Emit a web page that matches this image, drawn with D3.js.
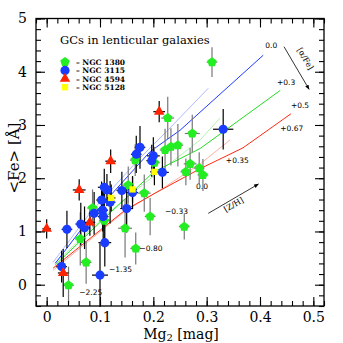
<!DOCTYPE html>
<html>
<head>
<meta charset="utf-8">
<script src="https://cdn.jsdelivr.net/npm/d3@7"></script>
<style>
  body { margin: 0; background: #fff; }
  svg { display: block; }
</style>
</head>
<body>
<div id="chart"></div>
<script>
// GC measurements: [Mg2, <Fe>, err Mg2, err Fe]
const ngc1380 = [
  [0.310, 4.18, 0.010, 0.28], [0.227, 3.13, 0.012, 0.40], [0.273, 2.84, 0.014, 0.35],
  [0.222, 2.53, 0.010, 0.40], [0.233, 2.59, 0.010, 0.35], [0.246, 2.62, 0.010, 0.40],
  [0.166, 2.34, 0.010, 0.30], [0.202, 2.29, 0.010, 0.30], [0.269, 2.27, 0.012, 0.30],
  [0.261, 2.12, 0.010, 0.25], [0.286, 2.19, 0.010, 0.30], [0.293, 2.06, 0.010, 0.30],
  [0.153, 1.87, 0.010, 0.35], [0.183, 1.72, 0.012, 0.35], [0.086, 1.44, 0.010, 0.35],
  [0.108, 1.20, 0.010, 0.50], [0.194, 1.28, 0.010, 0.35], [0.147, 1.06, 0.013, 0.55],
  [0.258, 1.09, 0.010, 0.24], [0.063, 0.86, 0.010, 0.50], [0.167, 0.68, 0.010, 0.30],
  [0.074, 0.42, 0.010, 0.40], [0.041, -0.01, 0.010, 0.35]
];
const ngc3115 = [
  [0.331, 2.92, 0.019, 0.38], [0.175, 2.58, 0.010, 0.40], [0.168, 2.45, 0.010, 0.35],
  [0.200, 2.42, 0.012, 0.35], [0.197, 2.33, 0.010, 0.30], [0.217, 2.11, 0.012, 0.30],
  [0.108, 1.83, 0.012, 0.35], [0.113, 1.78, 0.010, 0.30], [0.141, 1.77, 0.010, 0.35],
  [0.161, 1.73, 0.010, 0.30], [0.105, 1.40, 0.010, 0.40], [0.103, 1.59, 0.010, 0.35],
  [0.119, 1.55, 0.010, 0.40], [0.150, 1.43, 0.012, 0.45], [0.089, 1.34, 0.010, 0.40],
  [0.106, 1.28, 0.010, 0.45], [0.038, 1.04, 0.010, 0.35], [0.064, 1.14, 0.010, 0.40],
  [0.071, 1.07, 0.010, 0.40], [0.109, 0.79, 0.012, 0.45], [0.028, 0.34, 0.010, 0.30],
  [0.100, 0.18, 0.015, 0.60]
];
const ngc4594 = [
  [0.211, 3.25, 0.011, 0.20], [0.120, 2.32, 0.010, 0.22], [0.061, 1.78, 0.012, 0.20],
  [0.081, 1.17, 0.010, 0.25], [0.000, 1.05, 0.008, 0.18], [0.031, 0.22, 0.010, 0.45]
];
const ngc5128 = [
  [0.121, 1.63, 0.008, 0.25], [0.161, 1.79, 0.008, 0.25], [0.202, 2.12, 0.008, 0.25]
];

// SSP model tracks: [Mg2, <Fe>]
const modelA00 = [[0.016, 0.40], [0.081, 1.25], [0.194, 2.50], [0.250, 2.90], [0.406, 4.31]];
const modelA00thin = [[0.012, 0.42], [0.080, 1.33], [0.175, 2.38], [0.228, 2.91], [0.303, 3.69]];
const modelA03 = [[0.016, 0.37], [0.119, 1.35], [0.201, 2.12], [0.288, 2.56], [0.438, 3.65]];
const modelA03thin = [[0.016, 0.41], [0.119, 1.38], [0.203, 2.06], [0.288, 2.72], [0.325, 3.13]];
const modelA05 = [[0.012, 0.31], [0.147, 1.40], [0.207, 1.74], [0.288, 2.18], [0.368, 2.57], [0.458, 3.21]];
const modelA05thin = [[0.012, 0.27], [0.147, 1.38], [0.213, 1.78], [0.288, 2.27], [0.344, 2.72]];

const alphaLabels = [
  { text: '0.0', x: 0.410, y: 4.45 }, { text: '+0.3', x: 0.432, y: 3.75 },
  { text: '+0.5', x: 0.458, y: 3.32 }, { text: '+0.67', x: 0.438, y: 2.89 }
];
const zhLabels = [
  { text: '+0.35', x: 0.336, y: 2.29 }, { text: '0.0', x: 0.280, y: 1.80 },
  { text: '\u22120.33', x: 0.222, y: 1.33 }, { text: '\u22120.80', x: 0.174, y: 0.64 },
  { text: '\u22121.35', x: 0.117, y: 0.24 }, { text: '\u22122.25', x: 0.061, y: -0.19 }
];

const xTicks = [0, 0.1, 0.2, 0.3, 0.4, 0.5];
const yTicks = [0, 1, 2, 3, 4, 5];
const legendNames = ['NGC 1380', 'NGC 3115', 'NGC 4594', 'NGC 5128'];

const W = 343, H = 343;
const svg = d3.select('#chart').append('svg').attr('width', W).attr('height', H);

const x = d3.scaleLinear().domain([-0.02, 0.52]).range([36, 324]);
const y = d3.scaleLinear().domain([-0.4, 5]).range([306, 18.5]);

const serif = 'DejaVu Serif, serif';

// model lines
const line = d3.line().x(d => x(d[0])).y(d => y(d[1]));
const models = [
  { d: modelA00thin, c: '#9aa8ff', w: 0.8 }, { d: modelA03thin, c: '#9cf09c', w: 0.8 },
  { d: modelA05thin, c: '#ff9c8c', w: 0.8 },
  { d: modelA00, c: '#1f3cff', w: 1 }, { d: modelA03, c: '#22dd22', w: 1 },
  { d: modelA05, c: '#ff2a10', w: 1 }
];
svg.append('g').selectAll('path').data(models).join('path')
  .attr('d', m => line(m.d)).attr('fill', 'none')
  .attr('stroke', m => m.c).attr('stroke-width', m => m.w);

// error bars
const groups = [
  { data: ngc1380, color: '#22ee22', shape: 'pent', err: '#777' },
  { data: ngc3115, color: '#1a3cff', shape: 'circle', err: '#000' },
  { data: ngc4594, color: '#ff2200', shape: 'tri', err: '#000' },
  { data: ngc5128, color: '#ffff00', shape: 'square', err: '#000' }
];
const eb = svg.append('g');
groups.forEach(g => {
  g.data.forEach(p => {
    eb.append('line').attr('x1', x(p[0])).attr('x2', x(p[0]))
      .attr('y1', y(p[1] - p[3])).attr('y2', y(p[1] + p[3]))
      .attr('stroke', g.err).attr('stroke-width', 1.2);
    eb.append('line').attr('x1', x(p[0] - p[2])).attr('x2', x(p[0] + p[2]))
      .attr('y1', y(p[1])).attr('y2', y(p[1]))
      .attr('stroke', g.err).attr('stroke-width', 1.2);
  });
});

function pentagon(r) {
  const pts = d3.range(5).map(i => {
    const a = -Math.PI / 2 + i * 2 * Math.PI / 5;
    return [r * Math.cos(a), r * Math.sin(a)];
  });
  return 'M' + pts.map(p => p.join(',')).join('L') + 'Z';
}
function shapePath(s) {
  if (s === 'pent') return pentagon(5);
  if (s === 'circle') return d3.symbol(d3.symbolCircle, 66)();
  if (s === 'tri') return d3.symbol(d3.symbolTriangle, 48)();
  return d3.symbol(d3.symbolSquare, 40)();
}

groups.forEach(g => {
  svg.append('g').selectAll('path').data(g.data).join('path')
    .attr('d', shapePath(g.shape))
    .attr('transform', p => `translate(${x(p[0])},${y(p[1])})`)
    .attr('fill', g.color);
});

// frame and ticks
const frame = svg.append('g');
frame.append('rect').attr('x', 36).attr('y', 18.5).attr('width', 288).attr('height', 287.5)
  .attr('fill', 'none').attr('stroke', '#000').attr('stroke-width', 1.3);

const xMinor = d3.range(-0.02, 0.521, 0.02);
const yMinor = d3.range(-0.4, 5.001, 0.2);

function tickAxis(axisFn, scale, vals, size, translate, labels, pad) {
  const a = axisFn(scale).tickValues(vals).tickSizeInner(-size).tickSizeOuter(0)
    .tickPadding(pad || 8).tickFormat(labels ? d3.format('') : '');
  const g = svg.append('g').attr('transform', translate).call(a);
  g.select('.domain').remove();
  g.selectAll('.tick line').attr('stroke', '#000').attr('stroke-width', 1.1);
  return g;
}
tickAxis(d3.axisBottom, x, xMinor, 5, 'translate(0,306)', false);
tickAxis(d3.axisTop, x, xMinor, 5, 'translate(0,18.5)', false);
tickAxis(d3.axisLeft, y, yMinor, 5, 'translate(36,0)', false);
tickAxis(d3.axisRight, y, yMinor, 5, 'translate(324,0)', false);
tickAxis(d3.axisTop, x, xTicks, 9, 'translate(0,18.5)', false);
tickAxis(d3.axisRight, y, yTicks, 9, 'translate(324,0)', false);
const xa = tickAxis(d3.axisBottom, x, xTicks, 9, 'translate(0,306)', true, 6);
const ya = tickAxis(d3.axisLeft, y, yTicks, 9, 'translate(36,0)', true);
xa.selectAll('text').attr('font-family', serif).attr('font-size', 14).attr('fill', '#000');
ya.selectAll('text').attr('font-family', serif).attr('font-size', 14).attr('fill', '#000')
  .attr('x', -9);

// axis titles
svg.append('text').attr('x', 181).attr('y', 339).attr('text-anchor', 'middle')
  .attr('font-family', serif).attr('font-size', 14).attr('fill', '#000')
  .call(t => {
    t.append('tspan').text('Mg');
    t.append('tspan').text('2').attr('font-size', 10).attr('dy', 2);
    t.append('tspan').text(' [mag]').attr('dy', -2);
  });
svg.append('text').attr('transform', 'translate(19,158) rotate(-90)')
  .attr('text-anchor', 'middle').attr('font-family', serif).attr('font-size', 15)
  .attr('fill', '#000').text('<Fe> [\u00c5]');

// legend
svg.append('text').attr('x', 60).attr('y', 44).attr('font-family', serif)
  .attr('font-size', 11.5).attr('fill', '#000').text('GCs in lenticular galaxies');
const leg = svg.append('g').selectAll('g').data(groups).join('g')
  .attr('transform', (g, i) => `translate(65,${62 + i * 8.4})`);
leg.append('path').attr('d', g => shapePath(g.shape)).attr('fill', g => g.color);
leg.append('text').attr('x', 11).attr('y', 2.8).attr('font-family', serif)
  .attr('font-size', 7.5).attr('font-weight', 'bold').attr('fill', '#000')
  .text((g, i) => '\u2013 ' + legendNames[i]);

// model annotations
const ann = svg.append('g').attr('font-family', 'DejaVu Sans, sans-serif')
  .attr('font-size', 7.5).attr('fill', '#000');
ann.selectAll('text.a').data(alphaLabels.concat(zhLabels)).join('text')
  .attr('x', d => x(d.x)).attr('y', d => y(d.y)).text(d => d.text);

// arrows
svg.append('defs').append('marker').attr('id', 'ah').attr('viewBox', '0 0 10 10')
  .attr('refX', 9).attr('refY', 5).attr('markerWidth', 6).attr('markerHeight', 6)
  .attr('orient', 'auto').append('path').attr('d', 'M0,1L10,5L0,9Z').attr('fill', '#000');
const arrows = [
  { x1: x(0.445), y1: y(4.47), x2: x(0.492), y2: y(3.67), label: '[\u03b1/Fe]', lx: 303, ly: 60, rot: 59 },
  { x1: x(0.303), y1: y(1.34), x2: x(0.397), y2: y(1.89), label: '[Z/H]', lx: 235, ly: 207, rot: -30 }
];
arrows.forEach(a => {
  svg.append('line').attr('x1', a.x1).attr('y1', a.y1).attr('x2', a.x2).attr('y2', a.y2)
    .attr('stroke', '#000').attr('stroke-width', 0.8).attr('marker-end', 'url(#ah)');
  svg.append('text').attr('transform', `translate(${a.lx},${a.ly}) rotate(${a.rot})`)
    .attr('text-anchor', 'middle').attr('font-family', serif).attr('font-size', 8)
    .attr('fill', '#000').text(a.label);
});
</script>
</body>
</html>
